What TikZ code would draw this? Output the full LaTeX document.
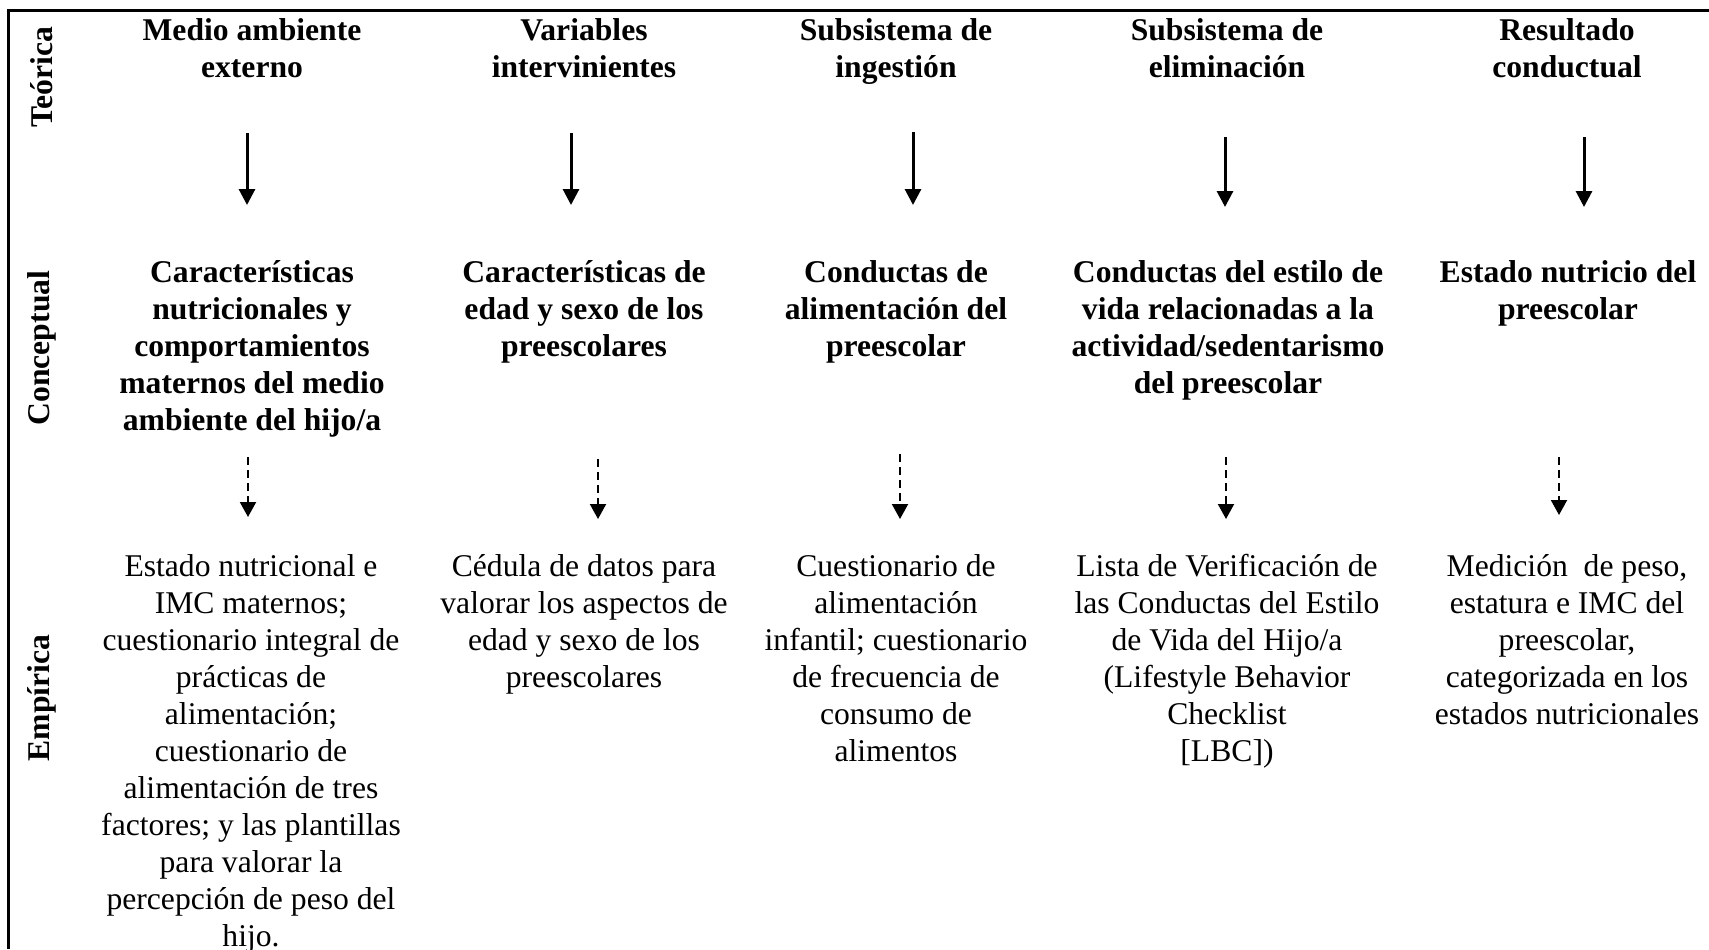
\documentclass[tikz,border=0pt]{standalone}
\usepackage{fontspec}
\setmainfont{Liberation Serif}
\usetikzlibrary{arrows.meta}

\begin{document}
\begin{tikzpicture}[
    txt/.style={align=center, inner sep=0pt, anchor=base, font=\fontsize{9}{10.5}\selectfont},
    boldtxt/.style={txt, font=\fontsize{9}{10.5}\selectfont\bfseries},
    rowlabel/.style={boldtxt, rotate=90, anchor=center},
    solidarr/.style={line width=0.03cm, -{Triangle[width=0.16cm, length=0.16cm]}},
    dasharr/.style={line width=0.02cm, dash pattern=on 0.08cm off 0.05cm, -{Triangle[width=0.16cm, length=0.15cm]}}
]
    % 1 px = 0.01 cm, picture 1709 x 949 px
    % line pitch 37 px = 0.37; base anchor = last line
    \useasboundingbox (0, 0) rectangle (17.09, -9.49);

    % frame: top and left only
    \draw[line width=0.03cm] (17.09, -0.10) -- (0.09, -0.10) -- (0.09, -9.49);

    % row labels
    \node[rowlabel] (teorica) at (0.42, -0.77) {Teórica};
    \node[rowlabel] (conceptual) at (0.42, -3.48) {Conceptual};
    \node[rowlabel] (empirica) at (0.42, -6.98) {Empírica};

    % headers: first baseline 40 px, 2 lines
    % 0.40 + 0.37 * 1 = 0.77
    \node[boldtxt] (h1) at (2.52, -0.77) {Medio ambiente\\externo};
    \node[boldtxt] (h2) at (5.84, -0.77) {Variables\\intervinientes};
    \node[boldtxt] (h3) at (8.96, -0.77) {Subsistema de\\ingestión};
    \node[boldtxt] (h4) at (12.27, -0.77) {Subsistema de\\eliminación};
    \node[boldtxt] (h5) at (15.67, -0.77) {Resultado\\conductual};

    % conceptual: first baseline 282 px
    % 5 lines: 2.82 + 0.37 * 4 = 4.30
    % 3 lines: 2.82 + 0.37 * 2 = 3.56
    % 4 lines: 2.82 + 0.37 * 3 = 3.93
    % 2 lines: 2.82 + 0.37 * 1 = 3.19
    \node[boldtxt] (c1) at (2.52, -4.30) {Características\\nutricionales y\\comportamientos\\maternos del medio\\ambiente del hijo/a};
    \node[boldtxt] (c2) at (5.84, -3.56) {Características de\\edad y sexo de los\\preescolares};
    \node[boldtxt] (c3) at (8.96, -3.56) {Conductas de\\alimentación del\\preescolar};
    \node[boldtxt] (c4) at (12.28, -3.93) {Conductas del estilo de\\vida relacionadas a la\\actividad/sedentarismo\\del preescolar};
    \node[boldtxt] (c5) at (15.68, -3.19) {Estado nutricio del\\preescolar};

    % empirica: first baseline 576 px
    % 11 lines: 5.76 + 0.37 * 10 = 9.46
    % 4 lines: 5.76 + 0.37 * 3 = 6.87
    % 6 lines: 5.76 + 0.37 * 5 = 7.61
    % 5 lines: 5.76 + 0.37 * 4 = 7.24
    \node[txt] (e1) at (2.51, -9.46) {Estado nutricional e\\IMC maternos;\\cuestionario integral de\\prácticas de\\alimentación;\\cuestionario de\\alimentación de tres\\factores; y las plantillas\\para valorar la\\percepción de peso del\\hijo.};
    \node[txt] (e2) at (5.84, -6.87) {Cédula de datos para\\valorar los aspectos de\\edad y sexo de los\\preescolares};
    \node[txt] (e3) at (8.96, -7.61) {Cuestionario de\\alimentación\\infantil; cuestionario\\de frecuencia de\\consumo de\\alimentos};
    \node[txt] (e4) at (12.27, -7.61) {Lista de Verificación de\\las Conductas del Estilo\\de Vida del Hijo/a\\(Lifestyle Behavior\\Checklist\\{[LBC])}};
    \node[txt] (e5) at (15.67, -7.24) {Medición\ \ de peso,\\estatura e IMC del\\preescolar,\\categorizada en los\\estados nutricionales};

    % solid arrows: 133 px -> 205 px
    \coordinate (s1a) at (2.47, -1.33);
    \coordinate (s1b) at (2.47, -2.05);
    \coordinate (s2a) at (5.71, -1.33);
    \coordinate (s2b) at (5.71, -2.05);
    \coordinate (s3a) at (9.13, -1.32);
    \coordinate (s3b) at (9.13, -2.05);
    \coordinate (s4a) at (12.25, -1.37);
    \coordinate (s4b) at (12.25, -2.07);
    \coordinate (s5a) at (15.84, -1.37);
    \coordinate (s5b) at (15.84, -2.07);
    \draw[solidarr] (s1a) -- (s1b);
    \draw[solidarr] (s2a) -- (s2b);
    \draw[solidarr] (s3a) -- (s3b);
    \draw[solidarr] (s4a) -- (s4b);
    \draw[solidarr] (s5a) -- (s5b);

    % dashed arrows: 457 px -> 518 px
    \coordinate (d1a) at (2.48, -4.57);
    \coordinate (d1b) at (2.48, -5.17);
    \coordinate (d2a) at (5.98, -4.59);
    \coordinate (d2b) at (5.98, -5.19);
    \coordinate (d3a) at (9.00, -4.54);
    \coordinate (d3b) at (9.00, -5.19);
    \coordinate (d4a) at (12.26, -4.57);
    \coordinate (d4b) at (12.26, -5.19);
    \coordinate (d5a) at (15.59, -4.57);
    \coordinate (d5b) at (15.59, -5.15);
    \draw[dasharr] (d1a) -- (d1b);
    \draw[dasharr] (d2a) -- (d2b);
    \draw[dasharr] (d3a) -- (d3b);
    \draw[dasharr] (d4a) -- (d4b);
    \draw[dasharr] (d5a) -- (d5b);
\end{tikzpicture}
\end{document}
